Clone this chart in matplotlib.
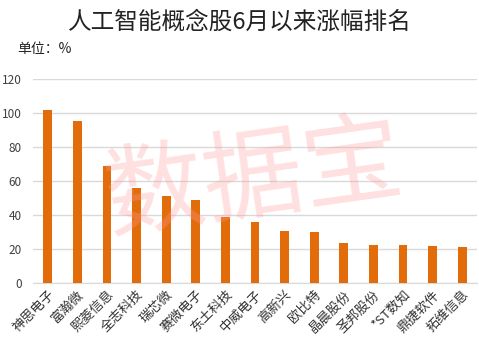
import matplotlib.pyplot as plt

plt.rcParams['font.family'] = ['Noto Sans CJK SC', 'DejaVu Sans']

names = ['神思电子', '富瀚微', '熙菱信息', '全志科技', '瑞芯微', '赛微电子', '东土科技',
         '中威电子', '高新兴', '欧比特', '晶晨股份', '圣邦股份', '*ST数知', '鼎捷软件', '拓维信息']
gains = [102, 95.5, 69, 56, 51.3, 49, 39, 36, 30.8, 30.2, 23.7, 22.5, 22.5, 21.9, 21.3]

fig = plt.figure(figsize=(4.79, 3.42), dpi=100)
ax = fig.add_axes([33 / 479, 1 - 283.3 / 342, 444 / 479, (283.3 - 79.3) / 342])

ax.bar(range(len(names)), gains, width=0.3, color='#E36C0A', zorder=3)
ax.set_xlim(-0.5, len(names) - 0.5)
ax.set_ylim(0, 120)
ax.set_yticks(range(0, 121, 20))
ax.yaxis.grid(True, color='#D9D9D9', linewidth=1, zorder=0)
for s in ['top', 'right', 'left']:
    ax.spines[s].set_visible(False)
ax.spines['bottom'].set_color('#D9D9D9')
ax.tick_params(axis='both', length=0, labelsize=8.5, colors='#404040')
ax.tick_params(axis='y', pad=8)
ax.set_xticks(range(len(names)))
ax.set_xticklabels(names, rotation=45, ha='right', rotation_mode='anchor', fontsize=9.5, color='#333333')

fig.text(0.5, 1 - 22 / 342, '人工智能概念股6月以来涨幅排名', ha='center', va='center', fontsize=17, color='#222222')
fig.text(17 / 479, 1 - 49 / 342, '单位：%', ha='left', va='center', fontsize=10, color='#222222')

# watermark
fig.text(0.53, 1 - 180 / 342, '数据宝', ha='center', va='center', fontsize=72, color='#FF9999',
         alpha=0.3, rotation=8, zorder=10)

fig.savefig('out.png', dpi=100)
